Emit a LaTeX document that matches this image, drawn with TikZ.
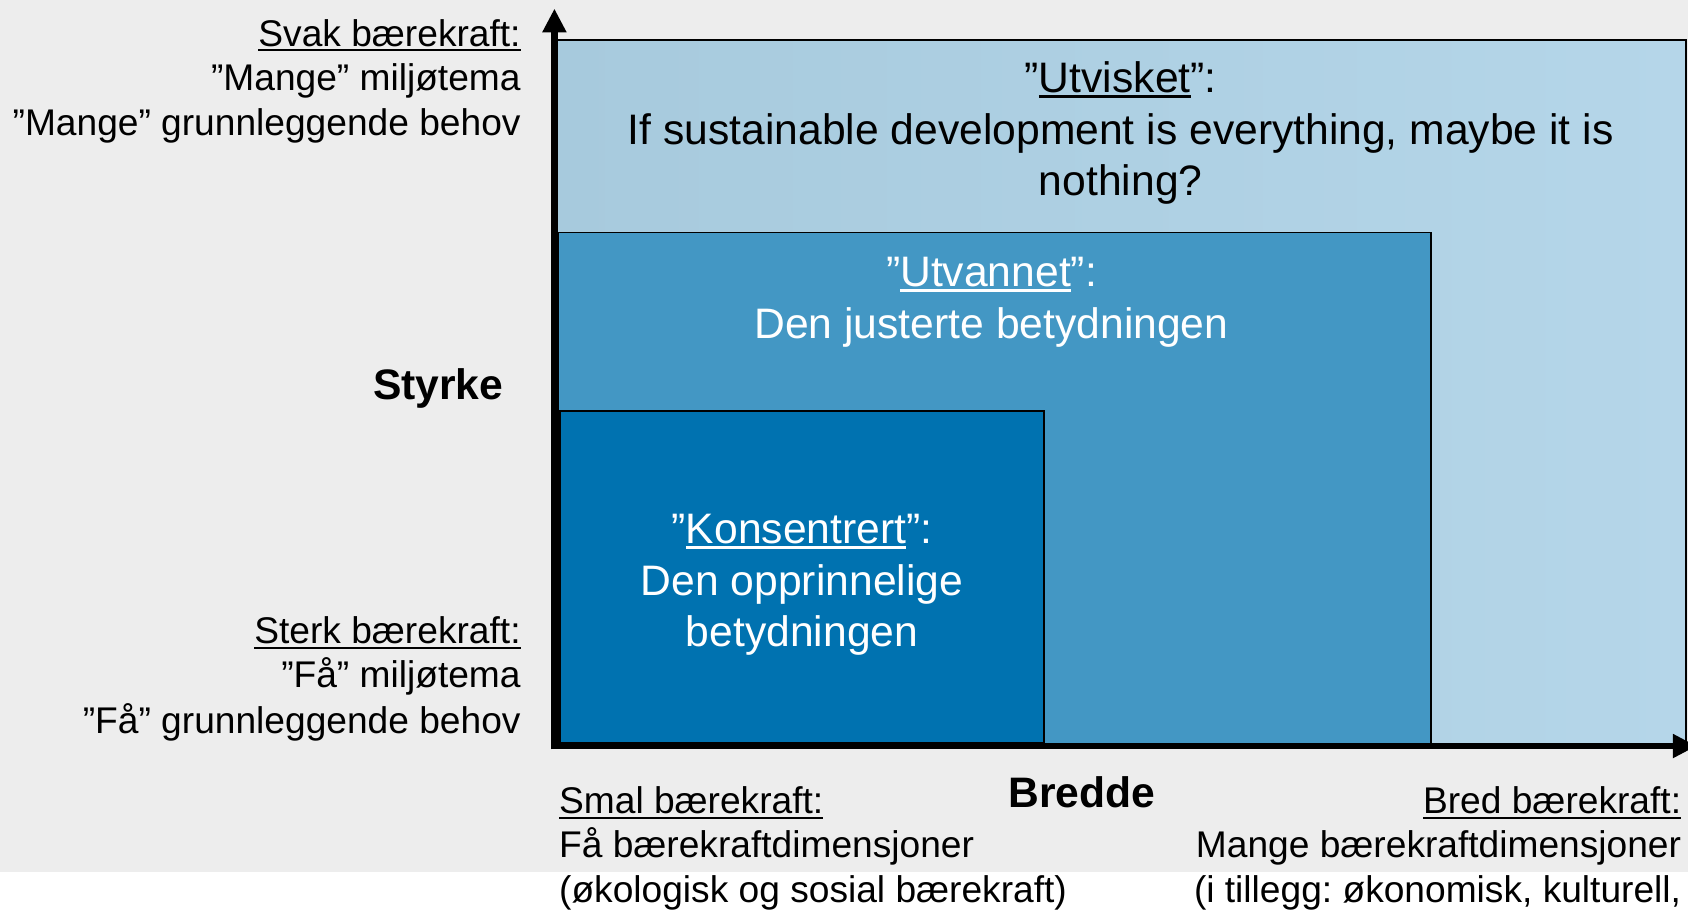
\documentclass[tikz,border=0pt]{standalone}
\usepackage{fontspec}
\setmainfont{Liberation Sans}
\frenchspacing
\definecolor{slidegray}{RGB}{237,237,237}
\definecolor{washblue}{RGB}{167,202,221}
\definecolor{washbluelight}{RGB}{181,214,233}
\definecolor{waterblue}{RGB}{67,151,196}
\definecolor{coreblue}{RGB}{0,114,176}
\usepackage{tikz}
\usetikzlibrary{arrows.meta,calc}
\newcommand{\undl}[1]{\setbox0\hbox{#1}\rlap{\rule[-2.4pt]{\wd0}{1.1pt}}\box0}
\newcommand{\sidesize}{\fontsize{17.25}{20.75}\selectfont}
\newcommand{\boxsize}{\fontsize{19.8}{24}\selectfont}

\begin{document}
\begin{tikzpicture}[x=0.5pt, y=0.5pt, every node/.style={inner sep=0pt}]
    \useasboundingbox (0,0) rectangle (1568,846);
    \fill[slidegray] (0,36) rectangle (1568,846);

    % nested meanings
    \draw[line width=0.7pt, left color=washblue, right color=washbluelight] (518,153) rectangle (1566,809);
    \draw[line width=0.8pt, fill=waterblue] (518,153) rectangle (1329,630);
    \draw[line width=1pt, fill=coreblue] (520,156) rectangle (970,464);

    % axes
    \coordinate (origin) at (515,153);
    \coordinate (ytip) at (515,838);
    \coordinate (xtip) at (1576,153);
    \draw[line width=3.2pt, -{Triangle[length=11pt,width=10.5pt]}] ($(origin)+(0,-3)$) -- (ytip);
    \draw[line width=3.2pt, -{Triangle[length=11pt,width=10.5pt]}] ($(origin)+(-3,0)$) -- (xtip);

    \node[font=\sidesize, anchor=base east] (svak) at (484,803) {\undl{Svak bærekraft:}};
    \node[font=\sidesize, anchor=base east] (svakmiljo) at (484,762) {”Mange” miljøtema};
    \node[font=\sidesize, anchor=base east] (svakbehov) at (484,720) {”Mange” grunnleggende behov};

    \node[font=\boxsize\bfseries, anchor=base east] (styrke) at (468,475) {Styrke};

    \node[font=\sidesize, anchor=base east] (sterk) at (484,248) {\undl{Sterk bærekraft:}};
    \node[font=\sidesize, anchor=base east] (sterkmiljo) at (484,207) {”Få” miljøtema};
    \node[font=\sidesize, anchor=base east] (sterkbehov) at (484,165) {”Få” grunnleggende behov};

    \node[font=\sidesize, anchor=base west] (smal) at (519,90) {\undl{Smal bærekraft:}};
    \node[font=\sidesize, anchor=base west] (smaldim) at (519,49) {Få bærekraftdimensjoner};
    \node[font=\sidesize, anchor=base west] (smalhva) at (519,8) {(økologisk og sosial bærekraft)};

    \node[font=\boxsize\bfseries, anchor=base] (bredde) at (1005,96) {Bredde};

    \node[font=\sidesize, anchor=base east] (bred) at (1562,90) {\undl{Bred bærekraft:}};
    \node[font=\sidesize, anchor=base east] (breddim) at (1562,49) {Mange bærekraftdimensjoner};
    \node[font=\sidesize, anchor=base east] (bredhva) at (1562,8) {(i tillegg: økonomisk, kulturell,};

    \node[font=\boxsize, anchor=base] (utvisket) at (1041,760) {”\undl{Utvisket}”:};
    \node[font=\boxsize, anchor=base] (utvisket2) at (1041,712) {If sustainable development is everything, maybe it is};
    \node[font=\boxsize, anchor=base] (utvisket3) at (1041,664) {nothing?};

    \node[font=\boxsize, text=white, anchor=base] (utvannet) at (921,580) {”\undl{Utvannet}”:};
    \node[font=\boxsize, text=white, anchor=base] (utvannet2) at (921,532) {Den justerte betydningen};

    \node[font=\boxsize, text=white, anchor=base] (konsentrert) at (745,341) {”\undl{Konsentrert}”:};
    \node[font=\boxsize, text=white, anchor=base] (konsentrert2) at (745,293) {Den opprinnelige};
    \node[font=\boxsize, text=white, anchor=base] (konsentrert3) at (745,245) {betydningen};
\end{tikzpicture}
\end{document}
